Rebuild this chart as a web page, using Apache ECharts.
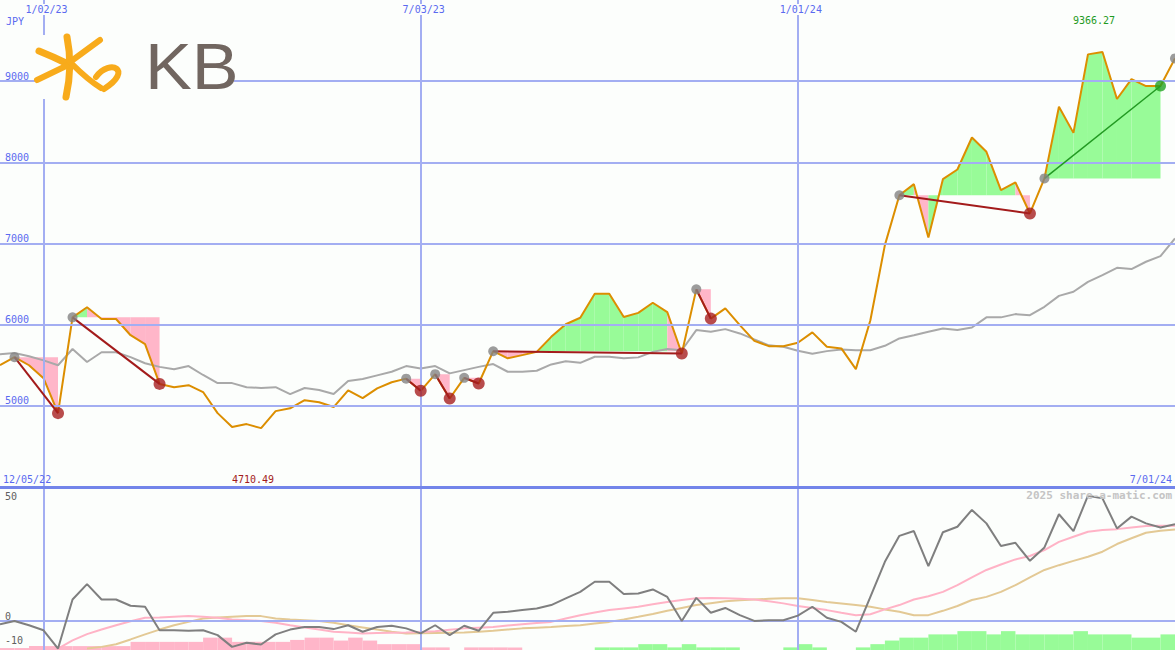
<!DOCTYPE html>
<html><head><meta charset="utf-8">
<script src="https://cdn.jsdelivr.net/npm/echarts@6/dist/echarts.min.js"></script>
<style>html,body{margin:0;padding:0;background:#fcfefc;}#c{width:1175px;height:650px;}</style>
</head><body><div id="c"></div>
<script>
// ---- data (weekly, index 0 = week of 12/12/22) ----
const price = [5501,5600,5500,5340,4910,6090,6215,6070,6070,5870,
5760,5270,5230,5255,5170,4910,4740,4775,4725,4935,
4970,5070,5045,4985,5190,5095,5215,5290,5335,5185,
5390,5090,5345,5275,5673,5585,5625,5665,5850,6005,
6085,6380,6380,6095,6145,6270,6155,5645,6435,6075,
6200,5995,5800,5735,5735,5777,5905,5727,5707,5452,
6055,6980,7595,7731,7075,7793,7912,8306,8130,7657,
7752,7370,7802,8685,8363,9330,9360,8780,9025,8940,
8940,9280];
const avgLine = [5636,5650,5610,5560,5500,5700,5540,5660,5660,5600,
5525,5480,5450,5490,5380,5280,5280,5230,5220,5230,
5145,5220,5195,5145,5305,5330,5375,5420,5490,5460,
5490,5400,5440,5480,5515,5420,5420,5432,5510,5550,
5530,5605,5605,5585,5597,5665,5700,5685,5933,5912,
5945,5892,5818,5745,5727,5678,5641,5674,5694,5685,
5685,5740,5830,5870,5912,5953,5933,5965,6090,6090,
6130,6117,6220,6355,6405,6528,6610,6700,6685,6775,
6845,7062];
const momentum = [-1.3,0.1,-1.7,-3.8,-11.4,9.0,15.4,9.0,9.0,6.4,
6.0,-3.8,-3.8,-4.0,-3.8,-5.8,-10.7,-9.0,-9.7,-5.5,
-3.5,-2.4,-2.4,-3.3,-1.7,-4.4,-2.4,-1.9,-3.0,-5.1,
-1.7,-5.8,-1.9,-4.0,3.5,3.9,4.6,5.3,6.7,9.5,
12.2,16.4,16.4,11.3,11.5,13.2,10.1,0.1,9.7,3.5,
5.5,2.5,0.1,0.4,0.4,2.3,6.0,1.4,-0.3,-4.4,
10.1,24.7,35.5,37.5,22.9,37.0,39.3,46.3,40.7,31.3,
32.6,25.1,30.7,44.5,37.5,52.2,51.1,38.6,43.5,40.7,
39.0,40.3];
const signalFast = [null,null,null,null,-11.4,-8.0,-5.4,-3.5,-1.7,0.0,
1.4,1.5,1.8,2.1,1.8,1.4,0.7,0.4,0.1,-0.7,
-1.7,-2.6,-3.5,-4.4,-4.7,-5.1,-4.9,-4.8,-4.7,-4.5,
-4.2,-3.6,-3.0,-2.7,-2.4,-1.8,-1.3,-0.8,-0.3,1.1,
2.5,3.6,4.6,5.3,6.0,7.0,8.0,8.8,9.5,9.6,
9.5,9.3,9.0,8.3,7.4,6.3,5.5,4.6,3.5,2.5,
2.9,4.9,6.7,9.0,10.4,12.2,15.0,18.2,21.3,23.6,
25.7,27.1,29.6,33.0,35.1,37.2,37.9,38.3,39.0,39.6,
39.7,39.7];
const signalSlow = [null,null,null,null,null,null,-11.4,-10.7,-9.6,-7.6,
-5.5,-3.5,-1.7,-0.3,1.1,1.5,1.8,2.1,2.1,1.1,
0.7,0.4,0.1,-0.7,-1.7,-2.6,-3.5,-4.4,-5.1,-5.0,
-4.9,-4.8,-4.7,-4.4,-4.0,-3.5,-3.0,-2.7,-2.4,-2.0,
-1.7,-1.0,-0.3,0.7,1.8,3.0,4.3,5.5,6.7,7.5,
8.3,8.7,9.0,9.3,9.5,9.5,8.8,8.0,7.4,6.7,
6.0,4.9,3.9,2.5,2.5,4.3,6.3,8.8,10.1,12.2,
15.0,18.2,21.3,23.3,25.1,26.8,28.9,32.1,34.5,36.8,
37.6,38.2];
const hist = [-0.6,-0.6,-1.2,-1.2,-1.2,-1.2,-1.2,-1.2,-1.2,-2.5,
-2.5,-2.5,-2.5,-2.5,-3.8,-3.8,-2.5,-2.5,-2.5,-2.5,
-3.1,-3.8,-3.8,-2.9,-3.8,-2.9,-1.8,-1.8,-1.8,-0.8,
-0.8,0,-0.8,-0.8,-0.8,-0.8,0,0,0,0,
0,0.8,0.8,0.8,1.8,1.8,0.8,1.8,0.8,0.8,
0.8,0,0,0,0.8,1.8,0.8,0,0,0.8,
1.8,2.9,3.8,3.8,4.8,4.8,5.8,5.8,4.8,5.8,
4.8,4.8,4.8,4.8,5.8,4.8,4.8,4.8,3.8,3.8,
4.8];
// pivot swings: [startIdx, endIdx, direction]
const pivots = [[1,4,'down'],[5,11,'down'],[28,29,'down'],[30,31,'down'],[32,33,'down'],
  [34,47,'down'],[48,49,'down'],[62,71,'down'],[72,80,'up']];
const openPivot = [81];
const xTickIdx = [3, 29, 55];
const xTickLabels = ['1/02/23', '7/03/23', '1/01/24'];
const priceTicks = [5000, 6000, 7000, 8000, 9000];
const oscTicks = [-10, 0, 50];
const rangeStart = '12/05/22', rangeEnd = '7/01/24';
const highLabel = '9366.27', lowLabel = '4710.49';
const currency = 'JPY';
const watermark = '2025 share-a-matic.com';

// ---- styling ----
const BG = '#fcfefc', BLUE_TXT = '#5a6af0', GRID = '#a3aef2', DIVIDER = '#7385ea';
const PINK = '#ffb6c9', GREEN = '#98fb98', ORANGE_LOGO = '#f8ab1b';
const MONO = 'DejaVu Sans Mono';

const chart = echarts.init(document.getElementById('c'), null, {renderer: 'svg'});

const fillData = [];
pivots.forEach(p => { for (let i = p[0]; i < p[1]; i++) fillData.push([i, price[p[0]]]); });
const grayPts = pivots.map(p => [p[0], price[p[0]]]).concat(openPivot.map(i => [i, price[i]]));
const redPts = pivots.filter(p => p[2] === 'down').map(p => [p[1], price[p[1]]]);
const greenPts = pivots.filter(p => p[2] === 'up').map(p => [p[1], price[p[1]]]);
const idx = a => a.map((v, i) => [i, v]);

const mlBase = {silent: true, symbol: 'none', label: {show: false}, animation: false};
const stroke = (w) => ({stroke: ORANGE_LOGO, lineWidth: w, lineCap: 'round', fill: null});

const option = {
  backgroundColor: BG,
  animation: false,
  grid: [
    {left: 0, right: 0, top: 0, height: 487},
    {left: 0, right: 0, top: 489, height: 161}
  ],
  xAxis: [
    {gridIndex: 0, type: 'value', min: 0, max: 81, position: 'top', z: 10,
      axisLine: {show: false}, axisTick: {show: false}, splitLine: {show: false},
      axisLabel: {inside: true, customValues: xTickIdx, margin: 4,
        formatter: v => xTickLabels[xTickIdx.indexOf(v)],
        color: BLUE_TXT, fontFamily: MONO, fontSize: 10, backgroundColor: BG, padding: [0, 1, 1, 7]}},
    {gridIndex: 1, type: 'value', min: 0, max: 81, show: false}
  ],
  yAxis: [
    {gridIndex: 0, type: 'value', min: 4000, max: 10000, z: 10,
      axisLine: {show: false}, axisTick: {show: false}, splitLine: {show: false},
      axisLabel: {inside: true, customValues: priceTicks, margin: 5, verticalAlign: 'bottom',
        formatter: v => String(v), color: BLUE_TXT, fontFamily: MONO, fontSize: 10}},
    {gridIndex: 1, type: 'value', min: -12, max: 55, z: 10,
      axisLine: {show: false}, axisTick: {show: false}, splitLine: {show: false},
      axisLabel: {inside: true, customValues: oscTicks, margin: 5, verticalAlign: 'bottom',
        formatter: v => String(v), color: '#606060', fontFamily: MONO, fontSize: 10}},
    {gridIndex: 1, type: 'value', min: 0, max: 49.5, show: false}
  ],
  series: [
    {type: 'line', xAxisIndex: 0, yAxisIndex: 0, data: [], z: 1,
      markLine: Object.assign({}, mlBase, {
        data: priceTicks.map(v => ({yAxis: v, lineStyle: {color: GRID, width: 2, type: 'solid'}}))
          .concat(xTickIdx.map(v => ({xAxis: v, lineStyle: {color: GRID, width: 2, type: 'solid'}})))
          .concat([{yAxis: 4000, lineStyle: {color: DIVIDER, width: 3, type: 'solid'}}])
      })},
    {type: 'custom', xAxisIndex: 0, yAxisIndex: 0, z: 2, data: fillData, encode: {x: 0, y: 1},
      renderItem: function (params, api) {
        const i = api.value(0), L = api.value(1);
        const a = api.coord([i, L]), b = api.coord([i, price[i]]);
        const c = api.coord([i + 1, price[i + 1]]), d = api.coord([i + 1, L]);
        return {type: 'polygon', shape: {points: [a, b, c, d]},
          style: {fill: price[i + 1] >= L ? GREEN : PINK}};
      }},
    {type: 'line', xAxisIndex: 0, yAxisIndex: 0, z: 3, data: idx(avgLine), symbol: 'none',
      lineStyle: {color: '#a9a9a9', width: 2}},
    {type: 'line', xAxisIndex: 0, yAxisIndex: 0, z: 4, data: idx(price), symbol: 'none',
      lineStyle: {color: '#dc8e00', width: 2}},
    {type: 'custom', xAxisIndex: 0, yAxisIndex: 0, z: 5,
      data: pivots.map(p => [p[0], p[1], p[2] === 'up' ? 1 : 0]), encode: {x: [0, 1]},
      renderItem: function (params, api) {
        const s = api.value(0), e = api.value(1), up = api.value(2) === 1;
        const p0 = api.coord([s, price[s]]), p1 = api.coord([e, price[e]]);
        return {type: 'line', shape: {x1: p0[0], y1: p0[1], x2: p1[0], y2: p1[1]},
          style: {stroke: up ? '#229a22' : '#a31b1b', lineWidth: up ? 1.5 : 2}};
      }},
    {type: 'scatter', xAxisIndex: 0, yAxisIndex: 0, z: 6, data: grayPts, symbolSize: 10,
      itemStyle: {color: '#838383'}},
    {type: 'scatter', xAxisIndex: 0, yAxisIndex: 0, z: 7, data: redPts, symbolSize: 12,
      itemStyle: {color: '#a61f1f'}},
    {type: 'scatter', xAxisIndex: 0, yAxisIndex: 0, z: 7, data: greenPts, symbolSize: 11,
      itemStyle: {color: '#22a122'}},
    {type: 'line', xAxisIndex: 1, yAxisIndex: 1, data: [], z: 1,
      markLine: Object.assign({}, mlBase, {
        data: [{yAxis: 0, lineStyle: {color: GRID, width: 2, type: 'solid'}}]
          .concat(xTickIdx.map(v => ({xAxis: v, lineStyle: {color: GRID, width: 2, type: 'solid'}})))
      })},
    {type: 'custom', xAxisIndex: 1, yAxisIndex: 2, z: 2, data: idx(hist), encode: {x: 0, y: 1},
      renderItem: function (params, api) {
        const i = api.value(0), v = api.value(1);
        if (!v) return null;
        const p1 = api.coord([i, Math.abs(v)]), p0 = api.coord([i + 1, 0]);
        return {type: 'rect', shape: {x: p1[0], y: p1[1], width: p0[0] - p1[0], height: p0[1] - p1[1]},
          style: {fill: v < 0 ? PINK : GREEN}};
      }},
    {type: 'line', xAxisIndex: 1, yAxisIndex: 1, z: 3, data: idx(signalSlow), symbol: 'none',
      lineStyle: {color: '#e3c995', width: 2}},
    {type: 'line', xAxisIndex: 1, yAxisIndex: 1, z: 4, data: idx(signalFast), symbol: 'none',
      lineStyle: {color: '#ffb3c6', width: 2}},
    {type: 'line', xAxisIndex: 1, yAxisIndex: 1, z: 5, data: idx(momentum), symbol: 'none',
      lineStyle: {color: '#7f7f7f', width: 2}}
  ],
  graphic: [
    {type: 'text', left: 6, top: 16, z: 100, style: {text: currency, fill: BLUE_TXT, font: '10px ' + MONO}},
    {type: 'text', left: 3, top: 474, z: 100, style: {text: rangeStart, fill: BLUE_TXT, font: '10px ' + MONO}},
    {type: 'text', right: 3, top: 474, z: 100, style: {text: rangeEnd, fill: BLUE_TXT, font: '10px ' + MONO}},
    {type: 'text', x: 253, y: 474, z: 100, style: {text: lowLabel, fill: '#a31b1b', font: '10px ' + MONO, align: 'center'}},
    {type: 'text', x: 1094, y: 15, z: 100, style: {text: highLabel, fill: '#1f9a1f', font: '10px ' + MONO, align: 'center'}},
    {type: 'text', right: 3, top: 490, z: 100, style: {text: watermark, fill: '#c4c4c4', font: 'bold 11px ' + MONO}},
    {type: 'group', z: 100, children: [
      {type: 'rect', shape: {x: 35, y: 35, width: 199, height: 64}, style: {fill: BG}, z: 100},
      {type: 'bezierCurve', shape: {x1: 39, y1: 51, cpx1: 54, cpy1: 57, x2: 68, y2: 64}, z: 101, style: stroke(7)},
      {type: 'bezierCurve', shape: {x1: 67, y1: 37, cpx1: 73, cpy1: 66, x2: 66, y2: 97}, z: 101, style: stroke(7)},
      {type: 'line', shape: {x1: 100, y1: 40, x2: 70, y2: 62}, z: 101, style: stroke(6)},
      {type: 'line', shape: {x1: 66, y1: 66, x2: 37, y2: 80}, z: 101, style: stroke(6)},
      {type: 'bezierCurve', shape: {x1: 72, y1: 64, cpx1: 88, cpy1: 80, x2: 101, y2: 88}, z: 101, style: stroke(6)},
      {type: 'bezierCurve', shape: {x1: 96, y1: 77, cpx1: 110, cpy1: 58, cpx2: 134, cpy2: 70, x2: 104, y2: 89}, z: 101, style: stroke(6)},
      {type: 'text', x: 145, y: 66, z: 101, scaleX: 1.08,
        style: {text: 'KB', fill: '#716660', font: '65px "Liberation Sans"', verticalAlign: 'middle'}}
    ]}
  ]
};
chart.setOption(option);
</script>
</body></html>
